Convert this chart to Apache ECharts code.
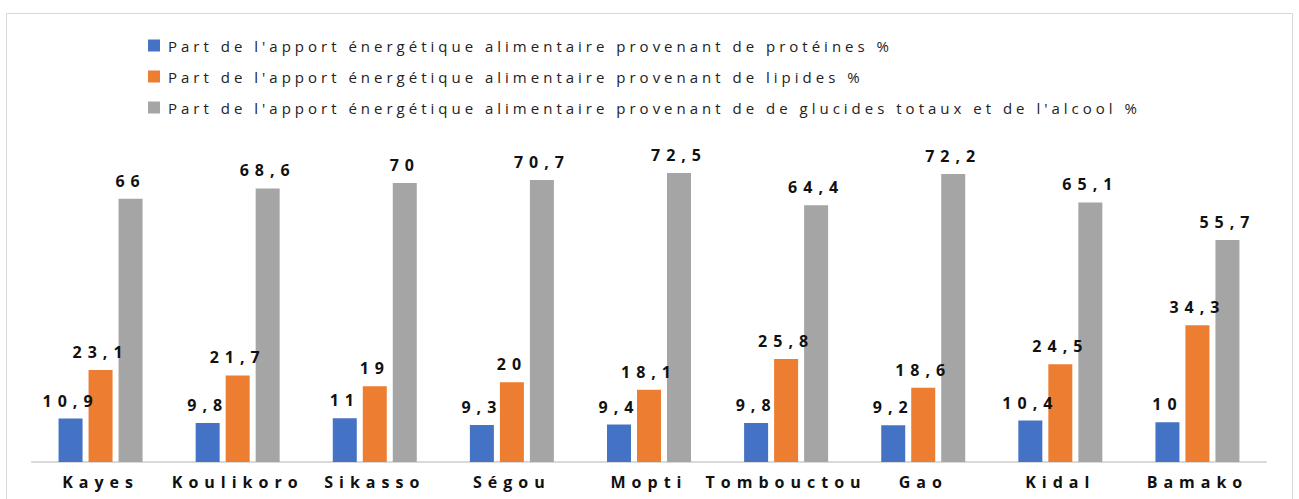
<!DOCTYPE html>
<html>
<head>
<meta charset="utf-8">
<script src="https://cdn.jsdelivr.net/npm/echarts@6/dist/echarts.min.js"></script>
<style>
  html, body { margin: 0; padding: 0; background: #fff; }
  #chart { width: 1299px; height: 499px; }
  /* Excel-style spaced lettering */
  #chart svg text { letter-spacing: 4px; }
</style>
</head>
<body>
<div id="chart"></div>
<script>
const regions = ['Kayes', 'Koulikoro', 'Sikasso', 'Ségou', 'Mopti', 'Tombouctou', 'Gao', 'Kidal', 'Bamako']
const proteines = [10.9, 9.8, 11, 9.3, 9.4, 9.8, 9.2, 10.4, 10]
const lipides = [23.1, 21.7, 19, 20, 18.1, 25.8, 18.6, 24.5, 34.3]
const glucides = [66, 68.6, 70, 70.7, 72.5, 64.4, 72.2, 65.1, 55.7]
const seriesNames = [
    "Part de l'apport énergétique alimentaire provenant de protéines %",
    "Part de l'apport énergétique alimentaire provenant de lipides %",
    "Part de l'apport énergétique alimentaire provenant de de glucides totaux et de l'alcool %"
]
const colors = ['#4472C4', '#ED7D31', '#A5A5A5']

const chart = echarts.init(document.getElementById('chart'), null, { renderer: 'svg' })

const makeSeries = (name, data, color) => ({
    name,
    type: 'bar',
    data,
    barWidth: 24,
    barGap: '25%',
    itemStyle: { color },
    label: {
        show: true,
        position: 'top',
        distance: 10,
        fontFamily: 'Open Sans',
        fontWeight: 'bold',
        fontSize: 16,
        color: '#111',
        formatter: p => String(p.value).replace('.', ',')
    }
})

const option = {
    animation: false,
    color: colors,
    graphic: [{
        type: 'rect',
        shape: { x: 6.5, y: 13.5, width: 1286, height: 500 },
        style: { fill: 'none', stroke: '#d9d9d9', lineWidth: 1 },
        silent: true
    }],
    legend: {
        orient: 'vertical',
        left: 143,
        top: 33,
        itemWidth: 12,
        itemHeight: 12,
        itemGap: 16,
        icon: 'rect',
        textStyle: { fontFamily: 'Open Sans', fontSize: 15, color: '#222', padding: [0, 0, 0, 3] }
    },
    grid: { left: 32, right: 33, top: 143, bottom: 37 },
    xAxis: {
        type: 'category',
        data: regions,
        axisLine: { lineStyle: { color: '#d9d9d9', width: 2 } },
        axisTick: { show: false },
        axisLabel: {
            margin: 12,
            fontFamily: 'Open Sans',
            fontWeight: 'bold',
            fontSize: 16,
            color: '#111'
        }
    },
    yAxis: {
        type: 'value',
        min: 0,
        max: 80,
        show: false,
        splitLine: { show: false }
    },
    series: [
        makeSeries(seriesNames[0], proteines, colors[0]),
        makeSeries(seriesNames[1], lipides, colors[1]),
        makeSeries(seriesNames[2], glucides, colors[2])
    ]
}
chart.setOption(option)

// bold labels (values, regions) are spaced wider than the legend
document.querySelectorAll('#chart svg text').forEach(t => {
    const w = parseInt(getComputedStyle(t).fontWeight, 10)
    if (w >= 600) t.style.letterSpacing = '6px'
})
</script>
</body>
</html>
